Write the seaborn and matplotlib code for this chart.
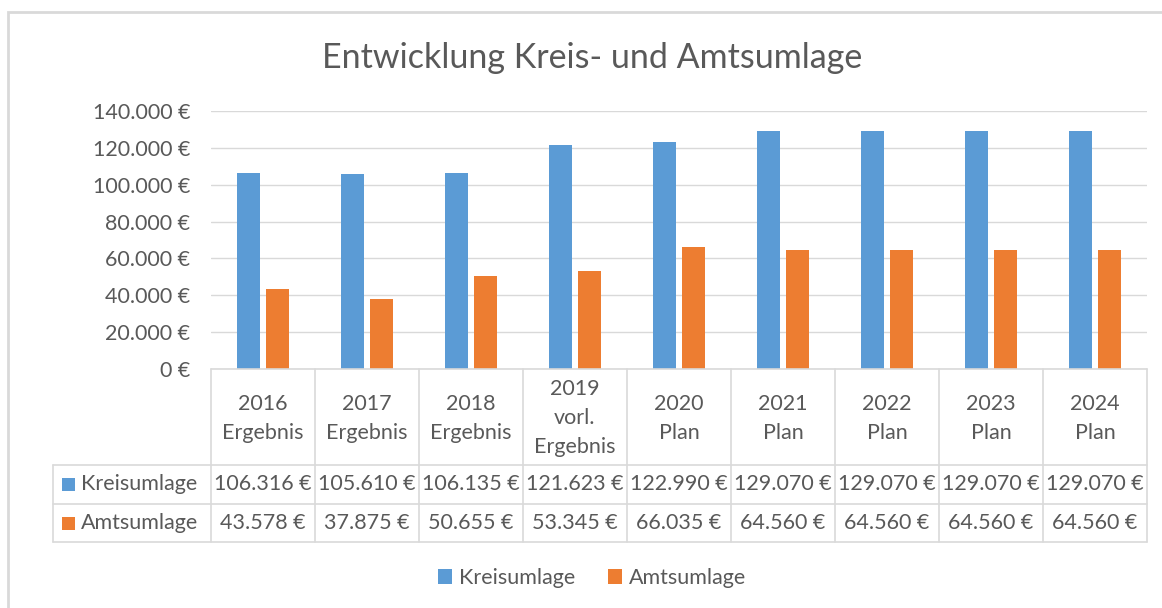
import matplotlib
matplotlib.use("Agg")
import matplotlib.pyplot as plt
import matplotlib.transforms as mtrans
from matplotlib.patches import Rectangle
from matplotlib.ticker import FuncFormatter, MultipleLocator
import seaborn as sns
import pandas as pd

# ---- data ----
categories = ["2016\nErgebnis", "2017\nErgebnis", "2018\nErgebnis", "2019\nvorl.\nErgebnis",
              "2020\nPlan", "2021\nPlan", "2022\nPlan", "2023\nPlan", "2024\nPlan"]
kreisumlage = [106316, 105610, 106135, 121623, 122990, 129070, 129070, 129070, 129070]
amtsumlage = [43578, 37875, 50655, 53345, 66035, 64560, 64560, 64560, 64560]
series_names = ["Kreisumlage", "Amtsumlage"]
title = "Entwicklung Kreis- und Amtsumlage"

colors = ["#5B9BD5", "#ED7D31"]
TXT = "#595959"
GRID = "#D9D9D9"
FONT = "Lato"
FS = 15.5

def euro(v):
    return f"{int(round(v)):,}".replace(",", ".") + " €"

df = pd.DataFrame({
    "cat": categories * 2,
    "val": kreisumlage + amtsumlage,
    "series": [series_names[0]] * len(categories) + [series_names[1]] * len(categories),
})

sns.set_theme(style="white")
plt.rcParams["font.family"] = [FONT, "DejaVu Sans"]

W, H = 1162, 608
fig = plt.figure(figsize=(W / 100, H / 100), dpi=100)

def fx(px):
    return px / W

def fy(py):
    return 1 - py / H

ax = fig.add_axes([fx(211), fy(369), fx(1147) - fx(211), fy(111) - fy(369)])
sns.barplot(data=df, x="cat", y="val", hue="series", palette=colors, ax=ax,
            width=0.56, gap=0.21, linewidth=0, saturation=1, legend=False)

ax.set_ylim(0, 140000)
ax.set_xlim(-0.5, len(categories) - 0.5)
ax.yaxis.set_major_locator(MultipleLocator(20000))
ax.yaxis.set_major_formatter(FuncFormatter(lambda v, p: euro(v)))
ax.grid(axis="y", color=GRID, linewidth=1)
ax.set_axisbelow(True)
for s in ax.spines.values():
    s.set_visible(False)
ax.set_xlabel("")
ax.set_ylabel("")
ax.set_xticks([])
ax.tick_params(axis="y", length=0, pad=15, labelsize=FS, labelcolor=TXT)

fig.text(fx(592), fy(58), title, ha="center", va="center", fontsize=24.5, color=TXT)

# ---- data table ----
bt = mtrans.blended_transform_factory(ax.transData, fig.transFigure)
n = len(categories)
y_axis0, y_row1, y_row2, y_row3 = fy(369), fy(465), fy(504), fy(542)
lkw = dict(color=GRID, linewidth=1.2, clip_on=False)
for i in range(n + 1):
    fig.add_artist(plt.Line2D([i - 0.5, i - 0.5], [y_axis0, y_row3], transform=bt, **lkw))
fig.add_artist(plt.Line2D([-0.5, n - 0.5], [y_axis0, y_axis0], transform=bt, **lkw))
for yy in (y_row1, y_row2, y_row3):
    fig.add_artist(plt.Line2D([fx(53), fx(1147)], [yy, yy], transform=fig.transFigure, **lkw))
fig.add_artist(plt.Line2D([fx(53), fx(53)], [y_row1, y_row3], transform=fig.transFigure, **lkw))

for i, c in enumerate(categories):
    fig.text(i, (y_axis0 + y_row1) / 2 - 0.002, c, transform=bt, ha="center", va="center",
             fontsize=FS, color=TXT, linespacing=1.55)

rows = [kreisumlage, amtsumlage]
row_centers = [(y_row1 + y_row2) / 2, (y_row2 + y_row3) / 2]
for r, (vals, yc) in enumerate(zip(rows, row_centers)):
    for i, v in enumerate(vals):
        fig.text(i, yc, euro(v), transform=bt, ha="center", va="center", fontsize=FS, color=TXT)
    fig.add_artist(Rectangle((fx(62), yc - 6.5 / H), 13 / W, 13 / H, transform=fig.transFigure,
                             facecolor=colors[r], edgecolor="none"))
    fig.text(fx(81), yc, series_names[r], ha="left", va="center", fontsize=FS, color=TXT)

# ---- legend ----
handles = [Rectangle((0, 0), 1, 1, facecolor=c, edgecolor="none") for c in colors]
fig.legend(handles, series_names, loc="center", bbox_to_anchor=(fx(592), fy(578)), ncol=2,
           frameon=False, fontsize=FS, labelcolor=TXT, handlelength=0.65, handleheight=0.65,
           handletextpad=0.35, columnspacing=1.5)

# ---- chart border ----
fig.add_artist(Rectangle((fx(8), -0.05), 1.2, fy(12) + 0.05, transform=fig.transFigure,
                         facecolor="none", edgecolor=GRID, linewidth=2))

fig.savefig("out.png", dpi=100, facecolor="white")
